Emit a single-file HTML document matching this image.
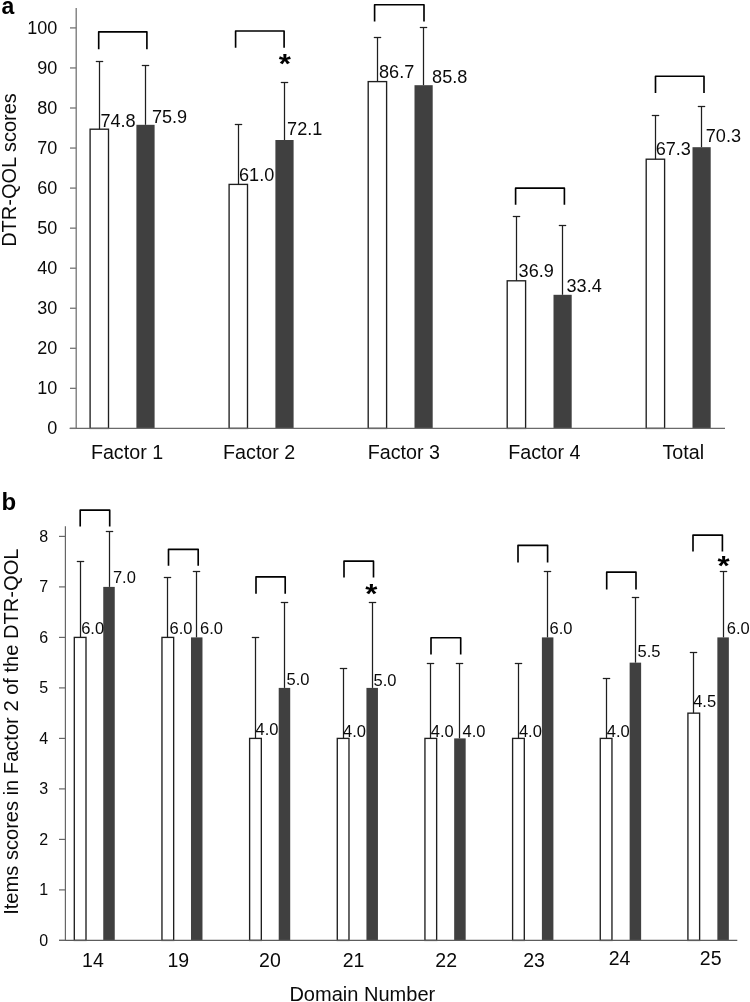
<!DOCTYPE html>
<html><head><meta charset="utf-8"><title>Figure</title>
<style>
html,body{margin:0;padding:0;background:#fff;}
body{width:750px;height:1002px;overflow:hidden;}
svg{display:block;will-change:transform;transform:translateZ(0);font-family:'Liberation Sans', sans-serif;fill:#0a0a0a;}
</style></head><body>
<svg width="750" height="1002" viewBox="0 0 750 1002" style="font-family:'Liberation Sans',sans-serif">
<rect x="0" y="0" width="750" height="1002" fill="#fff"/>
<rect x="90.10" y="129.20" width="18.40" height="299.20" fill="#fff" stroke="#1f1f1f" stroke-width="1.35"/>
<rect x="136.40" y="124.80" width="18.20" height="303.60" fill="#404040"/>
<line x1="99.50" y1="61.50" x2="99.50" y2="129.20" stroke="#1f1f1f" stroke-width="1.25"/>
<line x1="95.80" y1="61.50" x2="103.20" y2="61.50" stroke="#1f1f1f" stroke-width="1.25"/>
<line x1="145.50" y1="65.50" x2="145.50" y2="124.80" stroke="#1f1f1f" stroke-width="1.25"/>
<line x1="141.80" y1="65.50" x2="149.20" y2="65.50" stroke="#1f1f1f" stroke-width="1.25"/>
<path d="M98.70 49.20V31.85H146.90V49.20" fill="none" stroke="#000" stroke-width="1.65" stroke-linejoin="round"/>
<text x="100.40" y="127.10" font-size="18.1" text-anchor="start" font-weight="normal">74.8</text>
<text x="151.90" y="122.70" font-size="18.1" text-anchor="start" font-weight="normal">75.9</text>
<rect x="229.10" y="184.40" width="18.40" height="244.00" fill="#fff" stroke="#1f1f1f" stroke-width="1.35"/>
<rect x="275.40" y="140.00" width="18.20" height="288.40" fill="#404040"/>
<line x1="238.50" y1="124.50" x2="238.50" y2="184.40" stroke="#1f1f1f" stroke-width="1.25"/>
<line x1="234.80" y1="124.50" x2="242.20" y2="124.50" stroke="#1f1f1f" stroke-width="1.25"/>
<line x1="284.50" y1="82.50" x2="284.50" y2="140.00" stroke="#1f1f1f" stroke-width="1.25"/>
<line x1="280.80" y1="82.50" x2="288.20" y2="82.50" stroke="#1f1f1f" stroke-width="1.25"/>
<path d="M235.60 47.70V31.00H284.10V47.70" fill="none" stroke="#000" stroke-width="1.65" stroke-linejoin="round"/>
<text x="239.00" y="181.20" font-size="18.1" text-anchor="start" font-weight="normal">61.0</text>
<text x="287.10" y="135.30" font-size="18.1" text-anchor="start" font-weight="normal">72.1</text>
<rect x="368.20" y="81.60" width="18.40" height="346.80" fill="#fff" stroke="#1f1f1f" stroke-width="1.35"/>
<rect x="414.50" y="85.20" width="18.20" height="343.20" fill="#404040"/>
<line x1="377.50" y1="37.50" x2="377.50" y2="81.60" stroke="#1f1f1f" stroke-width="1.25"/>
<line x1="373.80" y1="37.50" x2="381.20" y2="37.50" stroke="#1f1f1f" stroke-width="1.25"/>
<line x1="423.50" y1="27.50" x2="423.50" y2="85.20" stroke="#1f1f1f" stroke-width="1.25"/>
<line x1="419.80" y1="27.50" x2="427.20" y2="27.50" stroke="#1f1f1f" stroke-width="1.25"/>
<path d="M374.60 21.40V4.75H424.00V21.40" fill="none" stroke="#000" stroke-width="1.65" stroke-linejoin="round"/>
<text x="379.00" y="78.20" font-size="18.1" text-anchor="start" font-weight="normal">86.7</text>
<text x="432.10" y="83.30" font-size="18.1" text-anchor="start" font-weight="normal">85.8</text>
<rect x="507.20" y="280.80" width="18.40" height="147.60" fill="#fff" stroke="#1f1f1f" stroke-width="1.35"/>
<rect x="553.50" y="294.80" width="18.20" height="133.60" fill="#404040"/>
<line x1="516.50" y1="216.50" x2="516.50" y2="280.80" stroke="#1f1f1f" stroke-width="1.25"/>
<line x1="512.80" y1="216.50" x2="520.20" y2="216.50" stroke="#1f1f1f" stroke-width="1.25"/>
<line x1="562.50" y1="225.50" x2="562.50" y2="294.80" stroke="#1f1f1f" stroke-width="1.25"/>
<line x1="558.80" y1="225.50" x2="566.20" y2="225.50" stroke="#1f1f1f" stroke-width="1.25"/>
<path d="M515.60 204.80V188.15H564.40V204.80" fill="none" stroke="#000" stroke-width="1.65" stroke-linejoin="round"/>
<text x="518.60" y="277.40" font-size="18.1" text-anchor="start" font-weight="normal">36.9</text>
<text x="566.50" y="291.90" font-size="18.1" text-anchor="start" font-weight="normal">33.4</text>
<rect x="646.20" y="159.20" width="18.40" height="269.20" fill="#fff" stroke="#1f1f1f" stroke-width="1.35"/>
<rect x="692.50" y="147.20" width="18.20" height="281.20" fill="#404040"/>
<line x1="655.50" y1="115.50" x2="655.50" y2="159.20" stroke="#1f1f1f" stroke-width="1.25"/>
<line x1="651.80" y1="115.50" x2="659.20" y2="115.50" stroke="#1f1f1f" stroke-width="1.25"/>
<line x1="701.50" y1="106.50" x2="701.50" y2="147.20" stroke="#1f1f1f" stroke-width="1.25"/>
<line x1="697.80" y1="106.50" x2="705.20" y2="106.50" stroke="#1f1f1f" stroke-width="1.25"/>
<path d="M655.50 93.00V76.25H704.00V93.00" fill="none" stroke="#000" stroke-width="1.65" stroke-linejoin="round"/>
<text x="655.70" y="154.70" font-size="18.1" text-anchor="start" font-weight="normal">67.3</text>
<text x="705.80" y="142.10" font-size="18.1" text-anchor="start" font-weight="normal">70.3</text>
<line x1="76.20" y1="8.00" x2="76.20" y2="429.00" stroke="#747474" stroke-width="1.3"/>
<line x1="69.60" y1="428.40" x2="725.00" y2="428.40" stroke="#6a6a6a" stroke-width="1.25"/>
<line x1="70.00" y1="428.40" x2="76.20" y2="428.40" stroke="#747474" stroke-width="1.3"/>
<text x="57.20" y="434.30" font-size="18" text-anchor="end" font-weight="normal">0</text>
<line x1="70.00" y1="388.35" x2="76.20" y2="388.35" stroke="#747474" stroke-width="1.3"/>
<text x="57.20" y="394.25" font-size="18" text-anchor="end" font-weight="normal">10</text>
<line x1="70.00" y1="348.30" x2="76.20" y2="348.30" stroke="#747474" stroke-width="1.3"/>
<text x="57.20" y="354.20" font-size="18" text-anchor="end" font-weight="normal">20</text>
<line x1="70.00" y1="308.25" x2="76.20" y2="308.25" stroke="#747474" stroke-width="1.3"/>
<text x="57.20" y="314.15" font-size="18" text-anchor="end" font-weight="normal">30</text>
<line x1="70.00" y1="268.20" x2="76.20" y2="268.20" stroke="#747474" stroke-width="1.3"/>
<text x="57.20" y="274.10" font-size="18" text-anchor="end" font-weight="normal">40</text>
<line x1="70.00" y1="228.15" x2="76.20" y2="228.15" stroke="#747474" stroke-width="1.3"/>
<text x="57.20" y="234.05" font-size="18" text-anchor="end" font-weight="normal">50</text>
<line x1="70.00" y1="188.10" x2="76.20" y2="188.10" stroke="#747474" stroke-width="1.3"/>
<text x="57.20" y="194.00" font-size="18" text-anchor="end" font-weight="normal">60</text>
<line x1="70.00" y1="148.05" x2="76.20" y2="148.05" stroke="#747474" stroke-width="1.3"/>
<text x="57.20" y="153.95" font-size="18" text-anchor="end" font-weight="normal">70</text>
<line x1="70.00" y1="108.00" x2="76.20" y2="108.00" stroke="#747474" stroke-width="1.3"/>
<text x="57.20" y="113.90" font-size="18" text-anchor="end" font-weight="normal">80</text>
<line x1="70.00" y1="67.95" x2="76.20" y2="67.95" stroke="#747474" stroke-width="1.3"/>
<text x="57.20" y="73.85" font-size="18" text-anchor="end" font-weight="normal">90</text>
<line x1="70.00" y1="27.90" x2="76.20" y2="27.90" stroke="#747474" stroke-width="1.3"/>
<text x="57.20" y="33.80" font-size="18" text-anchor="end" font-weight="normal">100</text>
<text x="127.00" y="458.50" font-size="19.7" text-anchor="middle" font-weight="normal">Factor 1</text>
<text x="259.20" y="458.50" font-size="19.7" text-anchor="middle" font-weight="normal">Factor 2</text>
<text x="403.80" y="458.50" font-size="19.7" text-anchor="middle" font-weight="normal">Factor 3</text>
<text x="544.40" y="458.50" font-size="19.7" text-anchor="middle" font-weight="normal">Factor 4</text>
<text x="683.30" y="458.50" font-size="19.7" text-anchor="middle" font-weight="normal">Total</text>
<text transform="translate(16.2,170) rotate(-90)" font-size="20" text-anchor="middle">DTR-QOL scores</text>
<text transform="translate(284.70,59.00) scale(1.04,0.92)" x="0.1" y="15.1" font-size="30" font-weight="bold" text-anchor="middle" fill="#000">*</text>
<text x="1.60" y="14.00" font-size="23" text-anchor="start" font-weight="bold" fill="#000">a</text>
<rect x="74.30" y="637.40" width="11.70" height="303.00" fill="#fff" stroke="#1f1f1f" stroke-width="1.35"/>
<rect x="103.25" y="586.90" width="11.50" height="353.50" fill="#404040"/>
<line x1="80.50" y1="561.50" x2="80.50" y2="637.40" stroke="#1f1f1f" stroke-width="1.25"/>
<line x1="76.80" y1="561.50" x2="84.20" y2="561.50" stroke="#1f1f1f" stroke-width="1.25"/>
<line x1="109.50" y1="531.50" x2="109.50" y2="586.90" stroke="#1f1f1f" stroke-width="1.25"/>
<line x1="105.80" y1="531.50" x2="113.20" y2="531.50" stroke="#1f1f1f" stroke-width="1.25"/>
<path d="M80.20 526.60V510.15H109.70V526.60" fill="none" stroke="#000" stroke-width="1.65" stroke-linejoin="round"/>
<text x="81.20" y="633.70" font-size="16.5" text-anchor="start" font-weight="normal">6.0</text>
<text x="112.90" y="583.30" font-size="16.5" text-anchor="start" font-weight="normal">7.0</text>
<rect x="161.96" y="637.40" width="11.70" height="303.00" fill="#fff" stroke="#1f1f1f" stroke-width="1.35"/>
<rect x="190.98" y="637.40" width="11.50" height="303.00" fill="#404040"/>
<line x1="167.50" y1="577.50" x2="167.50" y2="637.40" stroke="#1f1f1f" stroke-width="1.25"/>
<line x1="163.80" y1="577.50" x2="171.20" y2="577.50" stroke="#1f1f1f" stroke-width="1.25"/>
<line x1="196.50" y1="571.50" x2="196.50" y2="637.40" stroke="#1f1f1f" stroke-width="1.25"/>
<line x1="192.80" y1="571.50" x2="200.20" y2="571.50" stroke="#1f1f1f" stroke-width="1.25"/>
<path d="M168.50 565.70V549.35H198.20V565.70" fill="none" stroke="#000" stroke-width="1.65" stroke-linejoin="round"/>
<text x="169.60" y="633.70" font-size="16.5" text-anchor="start" font-weight="normal">6.0</text>
<text x="200.00" y="633.70" font-size="16.5" text-anchor="start" font-weight="normal">6.0</text>
<rect x="249.62" y="738.40" width="11.70" height="202.00" fill="#fff" stroke="#1f1f1f" stroke-width="1.35"/>
<rect x="278.71" y="687.90" width="11.50" height="252.50" fill="#404040"/>
<line x1="255.50" y1="637.50" x2="255.50" y2="738.40" stroke="#1f1f1f" stroke-width="1.25"/>
<line x1="251.80" y1="637.50" x2="259.20" y2="637.50" stroke="#1f1f1f" stroke-width="1.25"/>
<line x1="284.50" y1="602.50" x2="284.50" y2="687.90" stroke="#1f1f1f" stroke-width="1.25"/>
<line x1="280.80" y1="602.50" x2="288.20" y2="602.50" stroke="#1f1f1f" stroke-width="1.25"/>
<path d="M256.00 593.70V576.85H285.20V593.70" fill="none" stroke="#000" stroke-width="1.65" stroke-linejoin="round"/>
<text x="255.60" y="735.00" font-size="16.5" text-anchor="start" font-weight="normal">4.0</text>
<text x="286.60" y="684.70" font-size="16.5" text-anchor="start" font-weight="normal">5.0</text>
<rect x="337.28" y="738.40" width="11.70" height="202.00" fill="#fff" stroke="#1f1f1f" stroke-width="1.35"/>
<rect x="366.44" y="687.90" width="11.50" height="252.50" fill="#404040"/>
<line x1="343.50" y1="668.50" x2="343.50" y2="738.40" stroke="#1f1f1f" stroke-width="1.25"/>
<line x1="339.80" y1="668.50" x2="347.20" y2="668.50" stroke="#1f1f1f" stroke-width="1.25"/>
<line x1="372.50" y1="602.50" x2="372.50" y2="687.90" stroke="#1f1f1f" stroke-width="1.25"/>
<line x1="368.80" y1="602.50" x2="376.20" y2="602.50" stroke="#1f1f1f" stroke-width="1.25"/>
<path d="M344.00 577.60V561.15H373.50V577.60" fill="none" stroke="#000" stroke-width="1.65" stroke-linejoin="round"/>
<text x="343.00" y="736.50" font-size="16.5" text-anchor="start" font-weight="normal">4.0</text>
<text x="373.60" y="686.00" font-size="16.5" text-anchor="start" font-weight="normal">5.0</text>
<rect x="424.94" y="738.40" width="11.70" height="202.00" fill="#fff" stroke="#1f1f1f" stroke-width="1.35"/>
<rect x="454.17" y="738.40" width="11.50" height="202.00" fill="#404040"/>
<line x1="430.50" y1="663.50" x2="430.50" y2="738.40" stroke="#1f1f1f" stroke-width="1.25"/>
<line x1="426.80" y1="663.50" x2="434.20" y2="663.50" stroke="#1f1f1f" stroke-width="1.25"/>
<line x1="459.50" y1="663.50" x2="459.50" y2="738.40" stroke="#1f1f1f" stroke-width="1.25"/>
<line x1="455.80" y1="663.50" x2="463.20" y2="663.50" stroke="#1f1f1f" stroke-width="1.25"/>
<path d="M431.00 654.40V637.75H460.70V654.40" fill="none" stroke="#000" stroke-width="1.65" stroke-linejoin="round"/>
<text x="430.80" y="736.70" font-size="16.5" text-anchor="start" font-weight="normal">4.0</text>
<text x="462.50" y="736.70" font-size="16.5" text-anchor="start" font-weight="normal">4.0</text>
<rect x="512.60" y="738.40" width="11.70" height="202.00" fill="#fff" stroke="#1f1f1f" stroke-width="1.35"/>
<rect x="541.90" y="637.40" width="11.50" height="303.00" fill="#404040"/>
<line x1="518.50" y1="663.50" x2="518.50" y2="738.40" stroke="#1f1f1f" stroke-width="1.25"/>
<line x1="514.80" y1="663.50" x2="522.20" y2="663.50" stroke="#1f1f1f" stroke-width="1.25"/>
<line x1="547.50" y1="571.50" x2="547.50" y2="637.40" stroke="#1f1f1f" stroke-width="1.25"/>
<line x1="543.80" y1="571.50" x2="551.20" y2="571.50" stroke="#1f1f1f" stroke-width="1.25"/>
<path d="M518.00 562.40V545.35H547.60V562.40" fill="none" stroke="#000" stroke-width="1.65" stroke-linejoin="round"/>
<text x="518.90" y="736.70" font-size="16.5" text-anchor="start" font-weight="normal">4.0</text>
<text x="549.60" y="633.50" font-size="16.5" text-anchor="start" font-weight="normal">6.0</text>
<rect x="600.26" y="738.40" width="11.70" height="202.00" fill="#fff" stroke="#1f1f1f" stroke-width="1.35"/>
<rect x="629.63" y="662.65" width="11.50" height="277.75" fill="#404040"/>
<line x1="606.50" y1="678.50" x2="606.50" y2="738.40" stroke="#1f1f1f" stroke-width="1.25"/>
<line x1="602.80" y1="678.50" x2="610.20" y2="678.50" stroke="#1f1f1f" stroke-width="1.25"/>
<line x1="635.50" y1="597.50" x2="635.50" y2="662.65" stroke="#1f1f1f" stroke-width="1.25"/>
<line x1="631.80" y1="597.50" x2="639.20" y2="597.50" stroke="#1f1f1f" stroke-width="1.25"/>
<path d="M606.70 589.40V572.15H636.00V589.40" fill="none" stroke="#000" stroke-width="1.65" stroke-linejoin="round"/>
<text x="606.80" y="736.70" font-size="16.5" text-anchor="start" font-weight="normal">4.0</text>
<text x="637.60" y="657.30" font-size="16.5" text-anchor="start" font-weight="normal">5.5</text>
<rect x="687.92" y="713.15" width="11.70" height="227.25" fill="#fff" stroke="#1f1f1f" stroke-width="1.35"/>
<rect x="717.36" y="637.40" width="11.50" height="303.00" fill="#404040"/>
<line x1="693.50" y1="652.50" x2="693.50" y2="713.15" stroke="#1f1f1f" stroke-width="1.25"/>
<line x1="689.80" y1="652.50" x2="697.20" y2="652.50" stroke="#1f1f1f" stroke-width="1.25"/>
<line x1="723.50" y1="571.50" x2="723.50" y2="637.40" stroke="#1f1f1f" stroke-width="1.25"/>
<line x1="719.80" y1="571.50" x2="727.20" y2="571.50" stroke="#1f1f1f" stroke-width="1.25"/>
<path d="M693.00 551.60V535.05H722.40V551.60" fill="none" stroke="#000" stroke-width="1.65" stroke-linejoin="round"/>
<text x="693.20" y="706.50" font-size="16.5" text-anchor="start" font-weight="normal">4.5</text>
<text x="726.80" y="634.00" font-size="16.5" text-anchor="start" font-weight="normal">6.0</text>
<line x1="65.40" y1="526.30" x2="65.40" y2="941.00" stroke="#666" stroke-width="1.2"/>
<line x1="59.00" y1="940.40" x2="737.30" y2="940.40" stroke="#5c5c5c" stroke-width="1.25"/>
<line x1="59.00" y1="940.40" x2="65.40" y2="940.40" stroke="#666" stroke-width="1.2"/>
<text x="48.10" y="945.90" font-size="16" text-anchor="end" font-weight="normal">0</text>
<line x1="59.00" y1="889.90" x2="65.40" y2="889.90" stroke="#666" stroke-width="1.2"/>
<text x="48.10" y="895.40" font-size="16" text-anchor="end" font-weight="normal">1</text>
<line x1="59.00" y1="839.40" x2="65.40" y2="839.40" stroke="#666" stroke-width="1.2"/>
<text x="48.10" y="844.90" font-size="16" text-anchor="end" font-weight="normal">2</text>
<line x1="59.00" y1="788.90" x2="65.40" y2="788.90" stroke="#666" stroke-width="1.2"/>
<text x="48.10" y="794.40" font-size="16" text-anchor="end" font-weight="normal">3</text>
<line x1="59.00" y1="738.40" x2="65.40" y2="738.40" stroke="#666" stroke-width="1.2"/>
<text x="48.10" y="743.90" font-size="16" text-anchor="end" font-weight="normal">4</text>
<line x1="59.00" y1="687.90" x2="65.40" y2="687.90" stroke="#666" stroke-width="1.2"/>
<text x="48.10" y="693.40" font-size="16" text-anchor="end" font-weight="normal">5</text>
<line x1="59.00" y1="637.40" x2="65.40" y2="637.40" stroke="#666" stroke-width="1.2"/>
<text x="48.10" y="642.90" font-size="16" text-anchor="end" font-weight="normal">6</text>
<line x1="59.00" y1="586.90" x2="65.40" y2="586.90" stroke="#666" stroke-width="1.2"/>
<text x="48.10" y="592.40" font-size="16" text-anchor="end" font-weight="normal">7</text>
<line x1="59.00" y1="536.40" x2="65.40" y2="536.40" stroke="#666" stroke-width="1.2"/>
<text x="48.10" y="541.90" font-size="16" text-anchor="end" font-weight="normal">8</text>
<text x="92.90" y="966.70" font-size="19.5" text-anchor="middle" font-weight="normal">14</text>
<text x="178.30" y="966.70" font-size="19.5" text-anchor="middle" font-weight="normal">19</text>
<text x="269.90" y="966.50" font-size="19.5" text-anchor="middle" font-weight="normal">20</text>
<text x="353.60" y="966.50" font-size="19.5" text-anchor="middle" font-weight="normal">21</text>
<text x="446.20" y="966.50" font-size="19.5" text-anchor="middle" font-weight="normal">22</text>
<text x="534.10" y="966.50" font-size="19.5" text-anchor="middle" font-weight="normal">23</text>
<text x="619.50" y="964.70" font-size="19.5" text-anchor="middle" font-weight="normal">24</text>
<text x="710.70" y="965.40" font-size="19.5" text-anchor="middle" font-weight="normal">25</text>
<text x="362.30" y="1000.80" font-size="20.05" text-anchor="middle" font-weight="normal">Domain Number</text>
<text transform="translate(18.2,731.7) rotate(-90)" font-size="20.1" text-anchor="middle">Items scores in Factor 2 of the DTR-QOL</text>
<text transform="translate(371.30,589.00) scale(1.04,0.92)" x="0.1" y="15.1" font-size="30" font-weight="bold" text-anchor="middle" fill="#000">*</text>
<text transform="translate(723.45,560.90) scale(1.04,0.92)" x="0.1" y="15.1" font-size="30" font-weight="bold" text-anchor="middle" fill="#000">*</text>
<text x="1.60" y="510.30" font-size="24" text-anchor="start" font-weight="bold" fill="#000">b</text>
</svg>
</body></html>
